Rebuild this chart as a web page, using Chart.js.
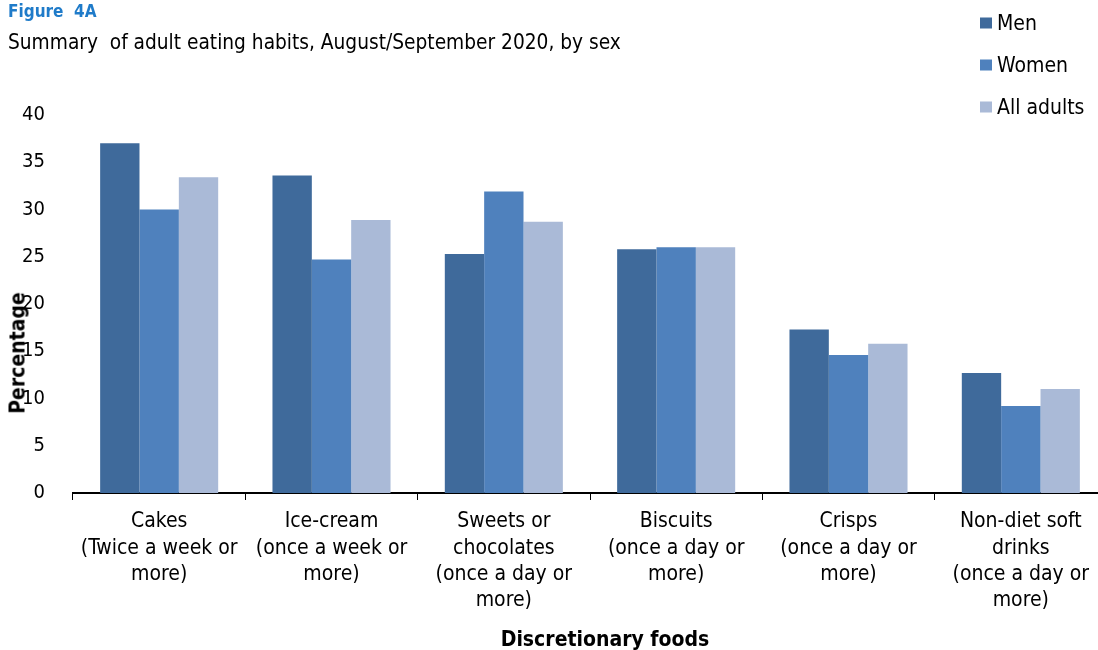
<!DOCTYPE html>
<html>
<head>
<meta charset="utf-8">
<script src="https://cdn.jsdelivr.net/npm/chart.js@4/dist/chart.umd.min.js"></script>
<style>
  html, body { margin:0; padding:0; background:#fff; overflow:hidden; width:1098px; height:650px; }
  #wrap { position:relative; width:1098px; height:650px; overflow:hidden; }
  canvas { position:absolute; left:0; top:0; }
  .t { position:absolute; font-family:"DejaVu Sans Condensed","DejaVu Sans",sans-serif; color:#000; white-space:nowrap; line-height:1; }
  #fig { left:8px; top:3px; font-size:17px; font-weight:bold; color:#1F7BC9; }
  #sub { left:8px; top:32px; font-size:20.7px; }
  #ytitle { left:18px; top:353px; font-size:21px; font-weight:bold; transform:translate(-50%,-50%) rotate(-90deg); }
  #xtitle { left:605px; top:639px; font-size:21px; font-weight:bold; transform:translate(-50%,-50%); }
  .leg { position:absolute; left:980px; font-family:"DejaVu Sans Condensed","DejaVu Sans",sans-serif; font-size:21px; line-height:1; white-space:nowrap; transform:translateY(-50%); }
  .leg span { display:inline-block; width:12px; height:11px; margin-right:5px; vertical-align:1px; }
</style>
</head>
<body>
<div id="wrap">
  <canvas id="c" width="1110" height="650"></canvas>
  <div class="t" id="fig">Figure&nbsp; 4A</div>
  <div class="t" id="sub">Summary&nbsp; of adult eating habits, August/September 2020, by sex</div>
  <div class="t" id="ytitle">Percentage</div>
  <div class="t" id="xtitle">Discretionary foods</div>
  <div id="legend"></div>
</div>
<script>
const categories = [
  ["Cakes", "(Twice a week or", "more)"],
  ["Ice-cream", "(once a week or", "more)"],
  ["Sweets or", "chocolates", "(once a day or", "more)"],
  ["Biscuits", "(once a day or", "more)"],
  ["Crisps", "(once a day or", "more)"],
  ["Non-diet soft", "drinks", "(once a day or", "more)"]
];
const seriesNames = ["Men", "Women", "All adults"];
const men = [37.0, 33.6, 25.3, 25.8, 17.3, 12.7];
const women = [30.0, 24.7, 31.9, 26.0, 14.6, 9.2];
const allAdults = [33.4, 28.9, 28.7, 26.0, 15.8, 11.0];
const colors = ["#3F6A9B", "#4F81BD", "#AABAD7"];
const yTicks = [0, 5, 10, 15, 20, 25, 30, 35, 40];

const FONT = '"DejaVu Sans Condensed","DejaVu Sans",sans-serif';

const legendEl = document.getElementById('legend');
const legCenters = [23, 65, 107];
seriesNames.forEach((n, i) => {
  const d = document.createElement('div');
  d.className = 'leg';
  d.style.top = legCenters[i] + 'px';
  d.innerHTML = '<span style="background:' + colors[i] + '"></span>' + n;
  legendEl.appendChild(d);
});

new Chart(document.getElementById('c'), {
  type: 'bar',
  data: {
    labels: categories,
    datasets: [men, women, allAdults].map((v, i) => ({
      label: seriesNames[i],
      data: v,
      backgroundColor: colors[i],
      borderWidth: 0,
      categoryPercentage: 0.685,
      barPercentage: 1.0
    }))
  },
  options: {
    responsive: false,
    animation: false,
    layout: { padding: { left: 0, right: 3, top: 115, bottom: 0 } },
    plugins: { legend: { display: false }, tooltip: { enabled: false }, title: { display: false } },
    scales: {
      x: {
        grid: { display: true, offset: true, drawOnChartArea: false, drawTicks: true, tickLength: 7, color: '#000', lineWidth: 1 },
        border: { display: true, color: '#000', width: 2 },
        ticks: { color: '#000', font: { family: FONT, size: 21, lineHeight: 1.24 }, padding: 9, maxRotation: 0, autoSkip: false },
        afterFit: s => { s.height = 157; }
      },
      y: {
        min: 0, max: 40,
        afterBuildTicks: s => { s.ticks = yTicks.map(v => ({ value: v })); },
        grid: { display: false },
        border: { display: false },
        ticks: { color: '#000', font: { family: FONT, size: 20 }, padding: 20 },
        afterFit: s => { s.width = 73; }
      }
    }
  }
});
</script>
</body>
</html>
